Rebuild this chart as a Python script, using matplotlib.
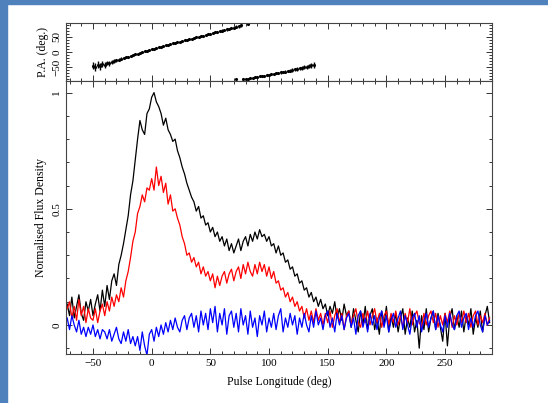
import numpy as np
import matplotlib
matplotlib.use('Agg')
import matplotlib.pyplot as plt
from matplotlib.patches import Rectangle
from matplotlib.ticker import MultipleLocator, FuncFormatter

# pulse longitude grid (deg), 2 deg bins
longitude = np.arange(-72, 289, 2)

# total intensity (black)
flux_I = [
    0.09, 0.04, 0.12, 0.03, 0.08, 0.13, 0.05, 0.02, 0.10, 0.06,
    0.11, 0.04, 0.09, 0.13, 0.06, 0.15, 0.08, 0.17, 0.11, 0.19,
    0.22, 0.17, 0.26, 0.30, 0.35, 0.41, 0.47, 0.56, 0.62, 0.71,
    0.80, 0.88, 0.84, 0.82, 0.91, 0.93, 0.98, 1.00, 0.96, 0.94,
    0.91, 0.86, 0.89, 0.84, 0.82, 0.79, 0.80, 0.75, 0.72, 0.68,
    0.65, 0.61, 0.58, 0.55, 0.53, 0.49, 0.51, 0.46, 0.47, 0.43,
    0.44, 0.40, 0.42, 0.38, 0.40, 0.36, 0.38, 0.34, 0.37, 0.32,
    0.35, 0.31, 0.34, 0.37, 0.32, 0.36, 0.38, 0.34, 0.39, 0.36,
    0.40, 0.37, 0.41, 0.38, 0.39, 0.36, 0.38, 0.34, 0.35, 0.31,
    0.34, 0.30, 0.31, 0.27, 0.28, 0.24, 0.25, 0.21, 0.22, 0.18,
    0.19, 0.15, 0.16, 0.12, 0.14, 0.10, 0.12, 0.08, 0.11, 0.07,
    0.09, 0.04, 0.08, 0.05, 0.10, 0.03, 0.07, 0.02, 0.09, 0.04,
    0.06, -0.01, 0.07, 0.02, -0.03, 0.06, 0.00, 0.08, -0.02, 0.04,
    0.07, -0.02, 0.03, -0.04, 0.06, 0.00, 0.08, -0.03, 0.04, -0.01,
    0.05, -0.03, 0.03, 0.07, -0.04, 0.03, -0.01, 0.06, -0.03, 0.02,
    -0.10, 0.04, -0.02, 0.07, -0.03, 0.03, 0.06, -0.02, 0.05, -0.01,
    -0.07, 0.05, -0.09, 0.03, 0.07, -0.02, 0.04, -0.01, 0.06, -0.03,
    0.04, 0.00, 0.07, -0.04, 0.03, -0.01, 0.06, -0.03, 0.04, 0.08,
    0.01,
]

# linear polarisation (red)
flux_L = [
    0.07, 0.10, 0.03, 0.08, 0.02, 0.11, 0.04, 0.08, 0.01, 0.07,
    0.03, 0.02, 0.07, 0.01, 0.06, 0.09, 0.04, 0.10, 0.06, 0.12,
    0.08, 0.13, 0.10, 0.16, 0.12, 0.19, 0.23, 0.29, 0.36, 0.40,
    0.48, 0.51, 0.56, 0.53, 0.59, 0.58, 0.63, 0.58, 0.68, 0.60,
    0.64, 0.57, 0.61, 0.52, 0.56, 0.49, 0.50, 0.46, 0.43, 0.38,
    0.35, 0.30, 0.31, 0.27, 0.29, 0.25, 0.27, 0.22, 0.25, 0.21,
    0.23, 0.19, 0.22, 0.16, 0.21, 0.17, 0.21, 0.23, 0.18, 0.22,
    0.24, 0.19, 0.23, 0.25, 0.20, 0.26, 0.22, 0.27, 0.23, 0.21,
    0.26, 0.22, 0.27, 0.23, 0.26, 0.21, 0.25, 0.20, 0.23, 0.18,
    0.19, 0.15, 0.16, 0.12, 0.14, 0.10, 0.12, 0.08, 0.10, 0.06,
    0.08, 0.03, 0.07, 0.02, 0.06, 0.01, 0.07, 0.02, 0.05, 0.00,
    0.05, 0.01, 0.06, -0.01, 0.04, 0.07, 0.01, 0.05, -0.02, 0.04,
    0.06, 0.00, 0.04, 0.07, 0.01, -0.01, 0.05, 0.01, 0.06, 0.00,
    0.04, 0.07, 0.01, 0.05, -0.01, 0.04, 0.06, 0.00, 0.05, 0.01,
    0.06, 0.00, 0.04, -0.01, 0.05, 0.01, 0.07, 0.00, 0.04, 0.06,
    0.01, -0.01, 0.05, 0.00, 0.04, 0.06, 0.01, 0.05, -0.01, 0.04,
    0.00, 0.05, 0.01, 0.06, -0.01, 0.04, 0.00, 0.05, 0.01, 0.06,
    0.01, 0.05, -0.01, 0.04, 0.06, 0.00, 0.04, 0.01, 0.05, 0.00,
    0.03,
]

# circular polarisation (blue)
flux_V = [
    0.03, -0.02, 0.04, 0.00, -0.03, 0.02, -0.04, -0.01, -0.05, -0.01,
    -0.04, 0.00, -0.05, -0.02, -0.06, -0.02, -0.03, -0.06, -0.02, -0.07,
    -0.04, -0.01, -0.06, -0.08, -0.03, -0.07, -0.02, -0.08, -0.05, -0.09,
    -0.05, -0.11, -0.03, -0.09, -0.13, -0.04, -0.02, -0.07, -0.01, -0.05,
    0.00, -0.04, 0.01, -0.03, 0.02, -0.02, 0.03, -0.01, -0.03, 0.02,
    0.04, -0.02, 0.03, 0.05, -0.01, 0.04, -0.03, 0.06, 0.00, 0.05,
    -0.02, 0.07, 0.01, 0.08, -0.03, 0.05, 0.00, 0.07, -0.04, 0.04,
    0.06, -0.01, 0.05, -0.03, 0.07, 0.00, 0.04, -0.04, 0.06, -0.01,
    0.03, -0.05, 0.04, 0.00, 0.06, -0.03, 0.03, -0.01, 0.05, -0.02,
    0.04, 0.07, -0.03, 0.03, -0.01, 0.05, 0.00, 0.04, -0.04, 0.03,
    -0.01, 0.05, 0.00, -0.03, 0.04, -0.01, 0.06, 0.00, 0.03, -0.02,
    0.04, 0.06, -0.01, 0.03, -0.03, 0.05, 0.00, 0.04, -0.02, 0.03,
    0.05, -0.01, 0.03, -0.04, 0.04, 0.06, -0.01, 0.03, -0.03, 0.05,
    0.00, 0.04, -0.02, 0.03, 0.06, -0.01, 0.04, -0.03, 0.02, 0.05,
    -0.01, 0.03, 0.06, -0.02, 0.04, 0.00, -0.04, 0.03, 0.05, -0.01,
    0.04, -0.03, 0.02, 0.05, -0.01, 0.03, 0.06, -0.02, 0.04, 0.00,
    -0.03, 0.04, -0.01, 0.05, 0.00, -0.02, 0.04, 0.06, -0.01, 0.03,
    0.05, -0.02, 0.03, -0.01, 0.04, 0.06, 0.00, -0.03, 0.04, 0.00,
    0.02,
]

# position angle sweep, first branch
pa_lon1 = np.arange(-50, 77, 2)
pa_val1 = [
    -45, -49, -41, -47, -40, -42, -36, -37, -32, -30,
    -27, -25, -22, -20, -17, -15, -13, -10, -8, -5,
    -3, -1, 2, 4, 7, 9, 11, 13, 15, 17,
    20, 22, 24, 26, 28, 30, 32, 34, 36, 38,
    40, 42, 44, 46, 48, 50, 52, 54, 56, 58,
    60, 62, 64, 66, 68, 70, 72, 74, 76, 78,
    80, 82, 85, 87,
]
pa_err1 = [
    12, 14, 10, 12, 9, 10, 8, 8, 6, 6,
    5, 5, 4, 4, 4, 3, 3, 3, 3, 3,
    3, 3, 3, 3, 3, 3, 3, 3, 3, 3,
    3, 3, 3, 3, 3, 3, 3, 3, 3, 3,
    3, 3, 3, 3, 3, 3, 3, 3, 3, 3,
    3, 3, 3, 3, 4, 4, 4, 4, 4, 4,
    5, 5, 5, 6,
]

# second branch (wrapped by 180 deg)
pa_lon2 = np.arange(78, 139, 2)
pa_val2 = [
    -89, -88, -87, -86, -84, -83, -82, -80, -79, -78,
    -76, -75, -73, -72, -70, -69, -67, -66, -64, -62,
    -61, -59, -57, -56, -54, -52, -50, -48, -46, -44,
    -42,
]
pa_err2 = [
    3, 3, 3, 3, 3, 3, 3, 3, 3, 3,
    3, 3, 3, 3, 3, 3, 4, 4, 4, 4,
    5, 5, 5, 6, 6, 6, 7, 7, 8, 8,
    9,
]

# stray points
pa_lon3 = [72, 82]
pa_val3 = [-90, 91]

fig = plt.figure(figsize=(5.48, 4.03), dpi=100)
fig.patch.set_facecolor('white')
# blue frame around the slide image
fig.add_artist(Rectangle((0, 0), 7 / 548, 1, transform=fig.transFigure,
                         color='#4F81BD', zorder=0))
fig.add_artist(Rectangle((0, 1 - 4 / 403), 1, 4 / 403, transform=fig.transFigure,
                         color='#4F81BD', zorder=0))

left = 66 / 548
width = (492 - 66) / 548
ax_pa = fig.add_axes([left, 1 - 81 / 403, width, 58 / 403])
ax = fig.add_axes([left, 1 - 354 / 403, width, 273 / 403])

font = dict(family='Liberation Serif', size=8.5)

# PA panel
ax_pa.errorbar(pa_lon1, pa_val1, yerr=pa_err1, fmt='.', color='black',
               markersize=2.5, elinewidth=1.0, capsize=0)
ax_pa.errorbar(pa_lon2, pa_val2, yerr=pa_err2, fmt='.', color='black',
               markersize=2.5, elinewidth=1.0, capsize=0)
ax_pa.plot(pa_lon3, pa_val3, '.', color='black', markersize=2.5)
ax_pa.set_xlim(-73, 290)
ax_pa.set_ylim(-95, 95)
ax_pa.set_ylabel('P.A. (deg.)', fontdict=font, labelpad=2)
ax_pa.yaxis.set_major_locator(MultipleLocator(50))
ax_pa.yaxis.set_minor_locator(MultipleLocator(10))
ax_pa.xaxis.set_major_locator(MultipleLocator(50))
ax_pa.xaxis.set_minor_locator(MultipleLocator(10))
ax_pa.set_xticklabels([])

# profile panel
ax.plot(longitude, flux_I, color='black', lw=0.9)
ax.plot(longitude, flux_L, color='#ff0000', lw=0.9)
ax.plot(longitude, flux_V, color='#0000ff', lw=0.9)
ax.set_xlim(-73, 290)
ax.set_ylim(-0.125, 1.05)
ax.set_xlabel('Pulse Longitude (deg)', fontdict=font, labelpad=6)
ax.set_ylabel('Normalised Flux Density', fontdict=font, labelpad=4)
ax.xaxis.set_major_locator(MultipleLocator(50))
ax.xaxis.set_minor_locator(MultipleLocator(10))
ax.yaxis.set_major_locator(MultipleLocator(0.5))
ax.yaxis.set_minor_locator(MultipleLocator(0.1))
ax.yaxis.set_major_formatter(FuncFormatter(lambda v, p: '%g' % v))

for a in (ax, ax_pa):
    a.tick_params(which='both', direction='in', top=True, right=True,
                  labelsize=8, width=0.7, color='#333333')
    a.tick_params(which='major', length=4)
    a.tick_params(which='minor', length=2)
    for lab in a.get_xticklabels() + a.get_yticklabels():
        lab.set_family('Liberation Serif')
    for lab in a.get_yticklabels():
        lab.set_rotation(90)
        lab.set_va('center')
    for s in a.spines.values():
        s.set_linewidth(0.8)
        s.set_color('#444444')

fig.savefig('out.png', dpi=100, facecolor='white')
